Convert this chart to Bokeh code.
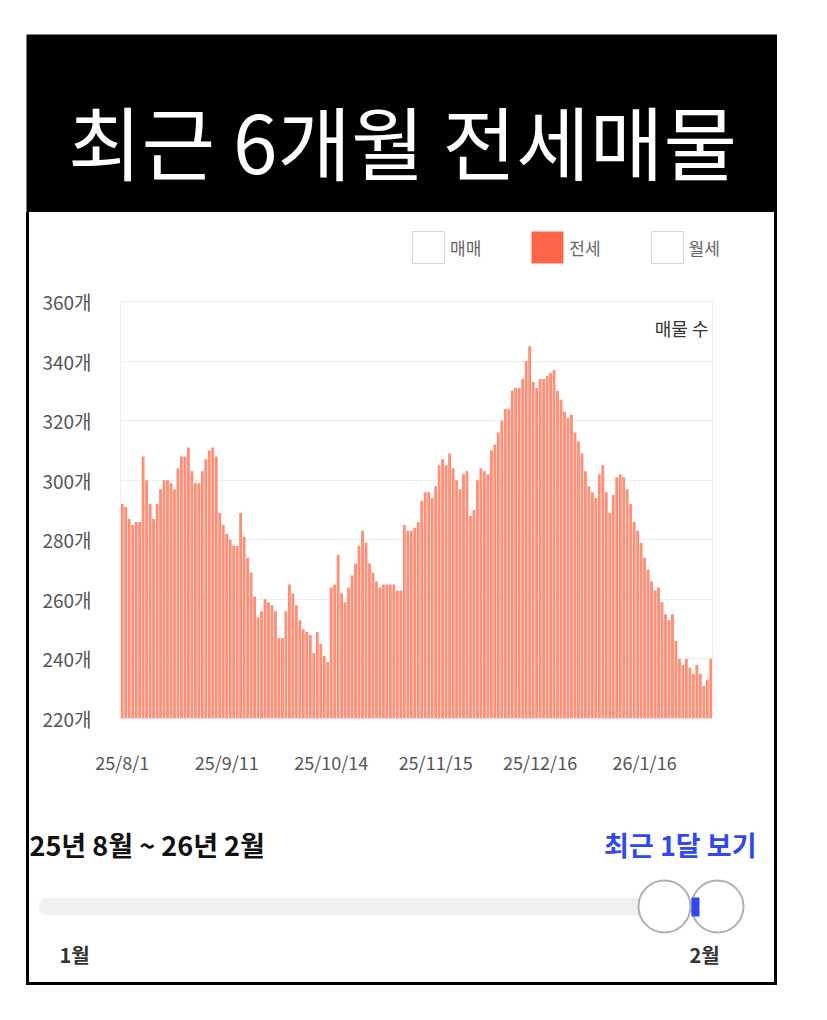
from bokeh.plotting import figure
from bokeh.models import Range1d, FixedTicker, Legend, LegendItem, Label, ColumnDataSource
from bokeh.layouts import column
from bokeh.embed import file_html
from bokeh.resources import INLINE
from bokeh.core.properties import value

FONT = "Noto Sans CJK KR"

# ---------------- data ----------------
title_text = "최근 6개월 전세매물"
legend_labels = ["매매", "전세", "월세"]
value_label = "매물 수"
y_ticks = [220, 240, 260, 280, 300, 320, 340, 360]
x_tick_positions = [0, 30, 60, 90, 120, 150]
x_tick_labels = ["25/8/1", "25/9/11", "25/10/14", "25/11/15", "25/12/16", "26/1/16"]
jeonse_counts = [
    292, 291, 287, 285, 286, 286, 308, 300, 292, 287,
    292, 297, 300, 300, 299, 297, 304, 308, 308, 311,
    303, 299, 299, 303, 307, 310, 311, 308, 289, 285,
    282, 280, 278, 278, 289, 281, 274, 269, 261, 254,
    256, 260, 259, 258, 256, 247, 247, 256, 265, 262,
    258, 253, 250, 249, 248, 242, 249, 245, 241, 239,
    264, 265, 275, 262, 259, 264, 268, 272, 278, 283,
    279, 272, 269, 266, 264, 265, 265, 265, 265, 263,
    263, 285, 283, 283, 284, 286, 293, 296, 296, 294,
    298, 305, 307, 305, 309, 304, 300, 297, 302, 303,
    288, 290, 300, 304, 303, 302, 310, 312, 316, 320,
    324, 324, 330, 331, 331, 334, 340, 345, 333, 331,
    334, 334, 335, 336, 337, 330, 327, 323, 321, 322,
    316, 313, 309, 303, 298, 296, 294, 302, 305, 296,
    289, 295, 301, 302, 301, 297, 292, 286, 283, 279,
    274, 270, 266, 263, 264, 259, 255, 253, 255, 246,
    240, 238, 240, 237, 235, 238, 235, 231, 233, 240,
]
period_text = "25년 8월 ~ 26년 2월"
recent_text = "최근 1달 보기"
slider_labels = ["1월", "2월"]

# ---------------- styles ----------------
BAR_COLOR = "#ff8f77"
LEGEND_COLOR = "#ff6547"
BLUE = "#3048f0"
INNER_W = 745


def bare(fig):
    fig.axis.visible = False
    fig.grid.visible = False


# ---------------- title block ----------------
tf = figure(width=751, height=178, x_range=Range1d(0, 751), y_range=Range1d(178, 0),
            toolbar_location=None, output_backend="svg", min_border=0,
            background_fill_color="black", border_fill_color="black", outline_line_color=None)
bare(tf)
tf.text(x=[376], y=[104], text=[title_text], text_font=value(FONT), text_font_size="80px",
        text_color="white", text_align="center", text_baseline="middle")

# ---------------- legend strip ----------------
lf = figure(width=INNER_W, height=74, x_range=Range1d(0, INNER_W), y_range=Range1d(0, 74),
            toolbar_location=None, output_backend="svg", min_border=0,
            outline_line_color=None, background_fill_color="white", border_fill_color="white")
bare(lf)
# proxy renderers for the legend swatches (their single bar lies outside the visible range)
proxy = dict(x=[-1000], top=[-1000], bottom=[-1001])
r_a = lf.vbar(x=proxy["x"], top=proxy["top"], bottom=proxy["bottom"], width=1,
              fill_color="white", line_color="#d6d6d6")
r_b = lf.vbar(x=proxy["x"], top=proxy["top"], bottom=proxy["bottom"], width=1,
              fill_color=LEGEND_COLOR, line_color=None)
r_c = lf.vbar(x=proxy["x"], top=proxy["top"], bottom=proxy["bottom"], width=1,
              fill_color="white", line_color="#d6d6d6")
legend = Legend(items=[LegendItem(label=legend_labels[0], renderers=[r_a]),
                       LegendItem(label=legend_labels[1], renderers=[r_b]),
                       LegendItem(label=legend_labels[2], renderers=[r_c])],
                location=(379, 19), orientation="horizontal",
                glyph_width=40, glyph_height=40, label_standoff=2, spacing=46,
                padding=5, margin=0, border_line_color=None, background_fill_alpha=0,
                label_text_font=FONT, label_text_font_size="17px", label_text_color="#666666")
lf.add_layout(legend)

# ---------------- chart ----------------
N = len(jeonse_counts)
src = ColumnDataSource(dict(x=list(range(N)), top=jeonse_counts))
y_min, y_max = y_ticks[0], y_ticks[-1]

p = figure(width=INNER_W, height=513, x_range=Range1d(-0.5, N - 0.5), y_range=Range1d(y_min, y_max),
           toolbar_location=None, output_backend="svg",
           min_border_left=91, min_border_right=62, min_border_top=15, min_border_bottom=81,
           outline_line_color="#eeeeee", background_fill_color="white", border_fill_color="white")

p.vbar(x="x", top="top", bottom=y_min, width=0.82, source=src,
       fill_color=BAR_COLOR, line_color=None)

p.xaxis.ticker = FixedTicker(ticks=x_tick_positions)
p.xaxis.major_label_overrides = dict(zip(x_tick_positions, x_tick_labels))
p.yaxis.ticker = FixedTicker(ticks=y_ticks)
p.yaxis.major_label_overrides = {t: f"{t}개" for t in y_ticks}
for ax in (p.xaxis, p.yaxis):
    ax.axis_line_color = None
    ax.major_tick_line_color = None
    ax.minor_tick_line_color = None
    ax.major_tick_out = 0
    ax.major_label_text_font = FONT
    ax.major_label_text_color = "#555555"
p.xaxis.major_label_text_font_size = "18px"
p.yaxis.major_label_text_font_size = "19px"
p.xaxis.major_label_standoff = 30
p.yaxis.major_label_standoff = 29
p.xgrid.visible = False
p.ygrid.grid_line_color = "#eeeeee"

p.add_layout(Label(x=N - 0.5, y=351, text=value_label, text_align="right", text_baseline="middle",
                   x_offset=-4, text_font=FONT, text_font_size="18px", text_color="#333333"))

# ---------------- bottom controls ----------------
cf = figure(width=INNER_W, height=183, x_range=Range1d(0, INNER_W), y_range=Range1d(183, 0),
            toolbar_location=None, output_backend="svg", min_border=0,
            outline_line_color=None, background_fill_color="white", border_fill_color="white")
bare(cf)
cf.text(x=[0], y=[45], text=[period_text], text_font=value(FONT), text_font_size="27px",
        text_font_style="bold", text_color="#111111", text_align="left", text_baseline="middle")
cf.text(x=[727], y=[45], text=[recent_text], text_font=value(FONT), text_font_size="27px",
        text_font_style="bold", text_color=BLUE, text_align="right", text_baseline="middle")
cf.line(x=[18, 652], y=[107, 107], line_width=17, line_color="#efefef", line_cap="round")
cf.scatter(x=[635, 688], y=[107, 107], size=52, marker="circle", fill_color="white",
           line_color="#b0b0b0", line_width=2)
cf.quad(left=[662], right=[670], top=[98], bottom=[117], fill_color=BLUE, line_color=None)
cf.text(x=[45, 675], y=[155, 155], text=slider_labels, text_font=value(FONT), text_font_size="20px",
        text_font_style="bold", text_color="#333333", text_align="center", text_baseline="middle")

box = column(column(lf), column(p), column(cf), spacing=0,
             styles={"border-left": "3px solid black", "border-right": "3px solid black",
                     "border-bottom": "3px solid black"})
layout = column(tf, box, spacing=0, margin=(34, 0, 0, 26))

open("out.html", "w").write(file_html(layout, INLINE))
